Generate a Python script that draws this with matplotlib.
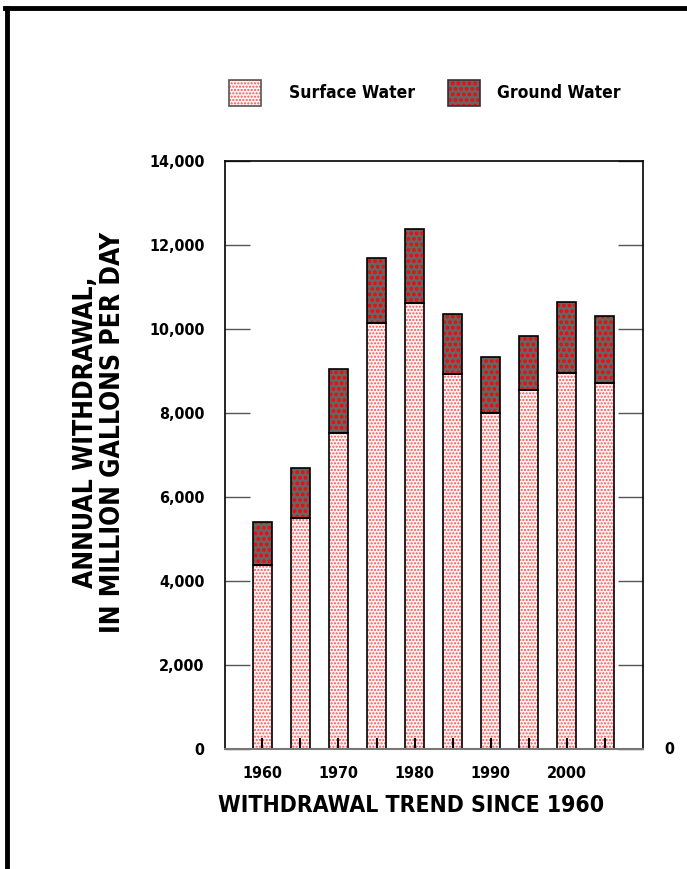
import numpy as np
import matplotlib
import matplotlib.pyplot as plt
from matplotlib.lines import Line2D
from matplotlib.patches import Rectangle

plt.rcParams['font.family'] = ['DejaVu Sans']
plt.rcParams['font.stretch'] = 'condensed'
plt.rcParams['font.weight'] = 'bold'
plt.rcParams['axes.labelweight'] = 'bold'

years = [1960, 1965, 1970, 1975, 1980, 1985, 1990, 1995, 2000, 2005]
surface = [4370, 5510, 7520, 10140, 10630, 8930, 7990, 8540, 8950, 8720]
total = [5400, 6690, 9050, 11700, 12390, 10365, 9335, 9825, 10635, 10300]
ground = [t - s for t, s in zip(total, surface)]
xtick_years = [1960, 1970, 1980, 1990, 2000]
yticks = [0, 2000, 4000, 6000, 8000, 10000, 12000, 14000]

fig = plt.figure(figsize=(6.87, 8.69), dpi=100)
W, H = 687, 869
ax = fig.add_axes([225 / W, 1 - 749 / H, (643 - 225) / W, (749 - 161) / H])

bw = 2.5
# fills with red hatching, then black outlines
plt.rcParams['hatch.linewidth'] = 1.0
ax.bar(years, surface, bw, color='#fff4f4', edgecolor='#ff5050', hatch='.....', linewidth=0)
plt.rcParams['hatch.linewidth'] = 1.8
ax.bar(years, ground, bw, bottom=surface, color='#666666', edgecolor='#ff0000', hatch='...', linewidth=0)
ax.bar(years, surface, bw, fill=False, edgecolor='black', linewidth=1.2)
ax.bar(years, ground, bw, bottom=surface, fill=False, edgecolor='black', linewidth=1.2)

ax.set_xlim(1955.1, 2010.0)
ax.set_ylim(0, 14000)
ax.set_yticks(yticks, [f'{v:,}' for v in yticks])
ax.set_xticks(xtick_years, [str(y) for y in xtick_years])
ax.set_xticks(years, minor=True)
ax.tick_params(axis='y', direction='in', length=18, width=1, left=True, right=True,
               labelsize=11.5, pad=14.5, color='#555555')
ax.tick_params(axis='x', which='both', direction='in', length=8, width=1.5, top=False,
               labelsize=11.5, pad=12)
for s in ['left', 'right', 'top']:
    ax.spines[s].set_linewidth(1.2)
ax.spines['bottom'].set_color('#777777')
ax.spines['bottom'].set_linewidth(1.5)
ax.text(1.05, 0, '0', transform=ax.transAxes, fontsize=11.5, va='center', ha='left')

fig.text(411 / W, 1 - 806 / H, 'WITHDRAWAL TREND SINCE 1960', fontsize=16.5,
         ha='center', va='center')
fig.text(100 / W, 1 - 432 / H, 'ANNUAL WITHDRAWAL,\nIN MILLION GALLONS PER DAY', fontsize=19,
         ha='center', va='center', rotation=90, multialignment='center', linespacing=1.05)

# legend
lax = fig.add_axes([0, 0, 1, 1], facecolor='none')
lax.set_axis_off()
lax.set_xlim(0, W)
lax.set_ylim(H, 0)
plt.rcParams['hatch.linewidth'] = 1.0
lax.add_patch(Rectangle((229, 80), 32, 26, facecolor='#fff4f4', edgecolor='#ff5050', hatch='.....', linewidth=0))
lax.add_patch(Rectangle((229, 80), 32, 26, fill=False, edgecolor='#555555', linewidth=1.2))
plt.rcParams['hatch.linewidth'] = 1.8
lax.add_patch(Rectangle((448, 80), 32, 26, facecolor='#666666', edgecolor='#ff0000', hatch='...', linewidth=0))
lax.add_patch(Rectangle((448, 80), 32, 26, fill=False, edgecolor='#333333', linewidth=1.2))
lax.text(289, 93, 'Surface Water', fontsize=12.5, va='center', ha='left')
lax.text(497, 93, 'Ground Water', fontsize=12.5, va='center', ha='left')

# frame
fig.add_artist(Line2D([5 / W, 1], [1 - 8 / H, 1 - 8 / H], color='black', linewidth=3.5))
fig.add_artist(Line2D([7 / W, 7 / W], [0, 1 - 8 / H], color='black', linewidth=3.5))

fig.savefig('out.png', dpi=100)
